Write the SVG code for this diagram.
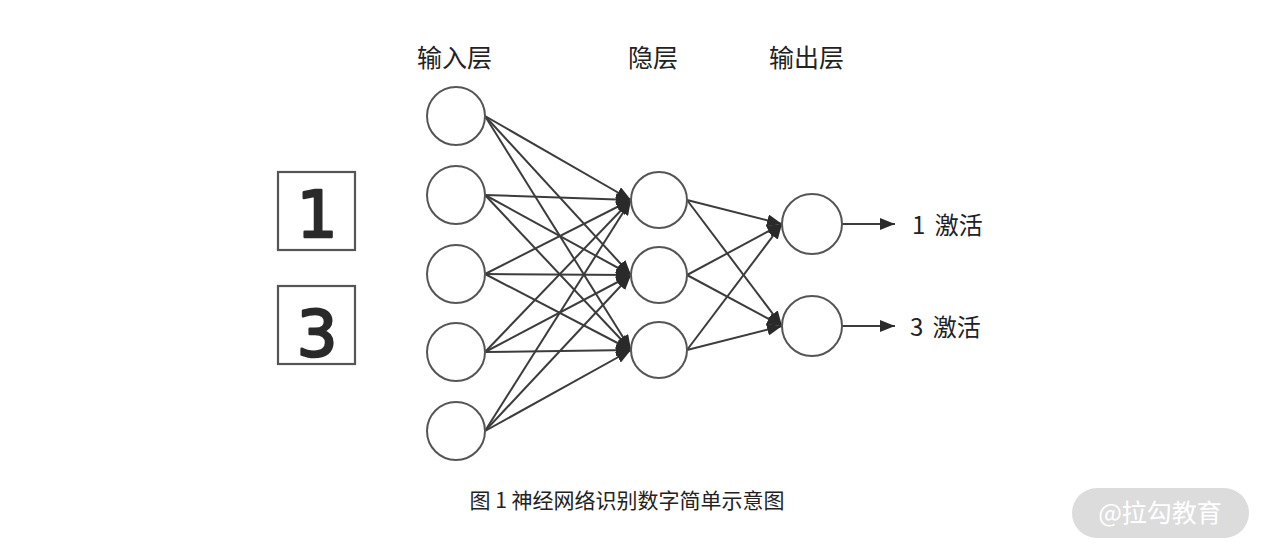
<svg xmlns="http://www.w3.org/2000/svg" width="1267" height="554" viewBox="0 0 1267 554">
<style>
.node{fill:#fff;stroke:#555;stroke-width:2}
.edge{stroke:#3c3c3c;stroke-width:2;fill:none}
.lbl{font-family:"Noto Sans CJK SC","Noto Sans",sans-serif;fill:#222}
.box{fill:#fff;stroke:#555;stroke-width:2.2}
.digit{font-family:"DejaVu Sans",sans-serif;fill:#2a2a2a;stroke:#2a2a2a;stroke-width:2.5;stroke-linejoin:round;text-anchor:middle}
</style>
<defs>
<marker id="ah" markerUnits="userSpaceOnUse" markerWidth="16" markerHeight="12" refX="15" refY="6" orient="auto">
<path d="M0,0 L15,6 L0,12 Z" fill="#2a2a2a"/>
</marker>
</defs>
<rect width="1267" height="554" fill="#fff"/>
<g id="titles" class="lbl" font-size="25">
<text x="417" y="67">输入层</text>
<text x="628" y="67">隐层</text>
<text x="769" y="67">输出层</text>
</g>
<g id="box1"><rect class="box" x="278" y="172" width="77" height="78"/><text class="digit" x="317" y="237" font-size="64">1</text></g>
<g id="box3"><rect class="box" x="278" y="286" width="77" height="78"/><text class="digit" x="317" y="356" font-size="64">3</text></g>
<g id="connectors" class="edge">
<path d="M485,116 L631,200" marker-end="url(#ah)"/>
<path d="M485,116 L631,275" marker-end="url(#ah)"/>
<path d="M485,116 L631,350" marker-end="url(#ah)"/>
<path d="M485,195 L631,200" marker-end="url(#ah)"/>
<path d="M485,195 L631,275" marker-end="url(#ah)"/>
<path d="M485,195 L631,350" marker-end="url(#ah)"/>
<path d="M485,274 L631,200" marker-end="url(#ah)"/>
<path d="M485,274 L631,275" marker-end="url(#ah)"/>
<path d="M485,274 L631,350" marker-end="url(#ah)"/>
<path d="M485,352 L631,200" marker-end="url(#ah)"/>
<path d="M485,352 L631,275" marker-end="url(#ah)"/>
<path d="M485,352 L631,350" marker-end="url(#ah)"/>
<path d="M485,431 L631,200" marker-end="url(#ah)"/>
<path d="M485,431 L631,275" marker-end="url(#ah)"/>
<path d="M485,431 L631,350" marker-end="url(#ah)"/>
<path d="M687,200 L782,224" marker-end="url(#ah)"/>
<path d="M687,200 L782,326" marker-end="url(#ah)"/>
<path d="M687,275 L782,224" marker-end="url(#ah)"/>
<path d="M687,275 L782,326" marker-end="url(#ah)"/>
<path d="M687,350 L782,224" marker-end="url(#ah)"/>
<path d="M687,350 L782,326" marker-end="url(#ah)"/>
<path d="M842,224 L895,224" marker-end="url(#ah)"/>
<path d="M842,326 L895,326" marker-end="url(#ah)"/>
</g>
<g id="in1"><circle class="node" cx="456" cy="116" r="29"/></g>
<g id="in2"><circle class="node" cx="456" cy="195" r="29"/></g>
<g id="in3"><circle class="node" cx="456" cy="274" r="29"/></g>
<g id="in4"><circle class="node" cx="456" cy="352" r="29"/></g>
<g id="in5"><circle class="node" cx="456" cy="431" r="29"/></g>
<g id="h1"><circle class="node" cx="659" cy="200" r="28"/></g>
<g id="h2"><circle class="node" cx="659" cy="275" r="28"/></g>
<g id="h3"><circle class="node" cx="659" cy="350" r="28"/></g>
<g id="o1"><circle class="node" cx="812" cy="224" r="30"/></g>
<g id="o2"><circle class="node" cx="812" cy="326" r="30"/></g>
<g id="outlabels" class="lbl" font-size="24" word-spacing="4">
<text x="912" y="234">1 激活</text>
<text x="910" y="336">3 激活</text>
</g>
<text id="caption" class="lbl" x="627" y="508" font-size="21" text-anchor="middle" fill="#333">图 1 神经网络识别数字简单示意图</text>
<g id="watermark">
<rect x="1072" y="488" width="177" height="50" rx="25" fill="#dcdcdc"/>
<text x="1160" y="522" font-size="25" text-anchor="middle" fill="#fff" font-family="'Noto Sans CJK SC','Noto Sans',sans-serif">@拉勾教育</text>
</g>
</svg>
